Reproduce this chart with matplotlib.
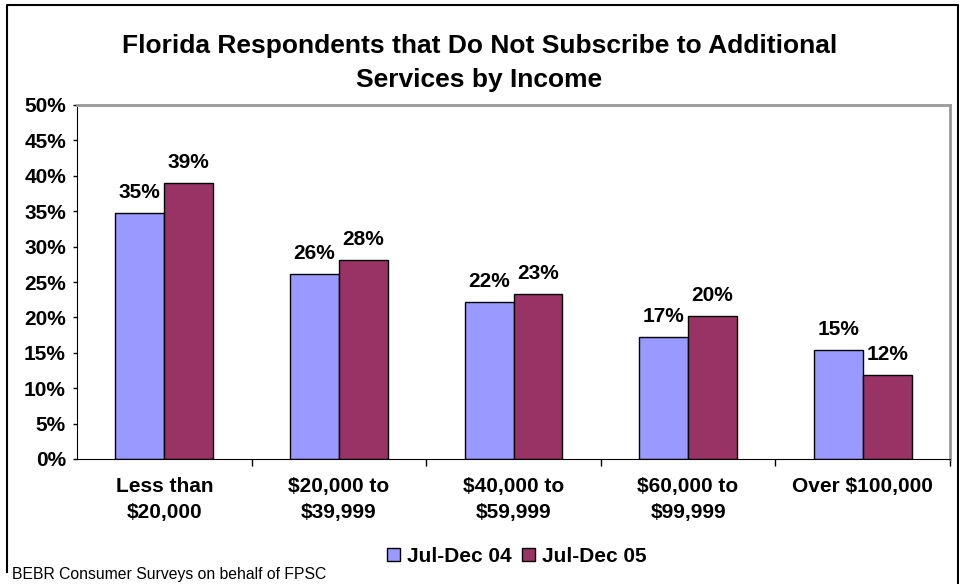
import numpy as np
import matplotlib
matplotlib.use("Agg")
import matplotlib.pyplot as plt
from matplotlib.lines import Line2D

plt.rcParams['font.family'] = ['Liberation Sans', 'DejaVu Sans']

categories = ["Less than\n$20,000", "$20,000 to\n$39,999", "$40,000 to\n$59,999",
              "$60,000 to\n$99,999", "Over $100,000"]
jul_dec_04 = [34.7, 26.1, 22.2, 17.2, 15.4]
jul_dec_05 = [39.0, 28.1, 23.3, 20.2, 11.9]
series_names = ["Jul-Dec 04", "Jul-Dec 05"]
yticks = [0, 5, 10, 15, 20, 25, 30, 35, 40, 45, 50]

W, H = 959, 584
fig = plt.figure(figsize=(W / 100, H / 100), dpi=100)
ax = fig.add_axes([77 / W, 1 - 459 / H, (950 - 77) / W, (459 - 105) / H])

x = np.arange(len(categories))
w = 0.28
b1 = ax.bar(x - w / 2, jul_dec_04, w, color="#9999ff", edgecolor="black", linewidth=1,
            label=series_names[0])
b2 = ax.bar(x + w / 2, jul_dec_05, w, color="#993366", edgecolor="black", linewidth=1,
            label=series_names[1])

for bars, vals in ((b1, jul_dec_04), (b2, jul_dec_05)):
    for rect, v in zip(bars, vals):
        ax.text(rect.get_x() + rect.get_width() / 2, v + 2.1, f"{v:.0f}%",
                ha="center", va="baseline", fontsize=15, fontweight="bold")

ax.set_xlim(-0.5, len(categories) - 0.5)
ax.set_ylim(0, 50)
ax.set_yticks(yticks)
ax.set_yticklabels([f"{t}%" for t in yticks], fontsize=15, fontweight="bold")
ax.tick_params(axis="y", direction="out", length=3, width=1, pad=5)

# category labels centred, tick marks on the group boundaries
ax.set_xticks(x)
ax.set_xticklabels(categories, fontsize=15, fontweight="bold", linespacing=1.45)
ax.tick_params(axis="x", length=0, pad=13)
ax.set_xticks(np.arange(0.5, len(categories) - 0.5 + 0.01, 1), minor=True)
ax.tick_params(axis="x", which="minor", direction="out", length=5, width=1)

ax.spines["left"].set_color("black")
ax.spines["bottom"].set_color("black")
for s in ("top", "right"):
    ax.spines[s].set_color("#999999")
    ax.spines[s].set_linewidth(2)

fig.text(0.5, 1 - 46 / H, "Florida Respondents that Do Not Subscribe to Additional",
         ha="center", va="center", fontsize=19, fontweight="bold")
fig.text(0.5, 1 - 80 / H, "Services by Income",
         ha="center", va="center", fontsize=19, fontweight="bold")

fig.legend(handles=[b1, b2], loc="center", bbox_to_anchor=(517 / W, 1 - 556 / H),
           ncol=2, frameon=False, prop={"weight": "bold", "size": 15},
           handlelength=0.6, handleheight=0.6, handletextpad=0.35, columnspacing=0.5)

fig.text(12 / W, 1 - 575 / H, "BEBR Consumer Surveys on behalf of FPSC",
         ha="left", va="center", fontsize=11.3)

# outer chart border (left, top, right)
px = lambda v: v / W
py = lambda v: 1 - v / H
fig.add_artist(Line2D([px(7), px(7), px(958), px(958)], [py(572), py(5), py(5), py(584)],
                      transform=fig.transFigure, color="black", linewidth=1.5))

fig.savefig("out.png", dpi=100)
